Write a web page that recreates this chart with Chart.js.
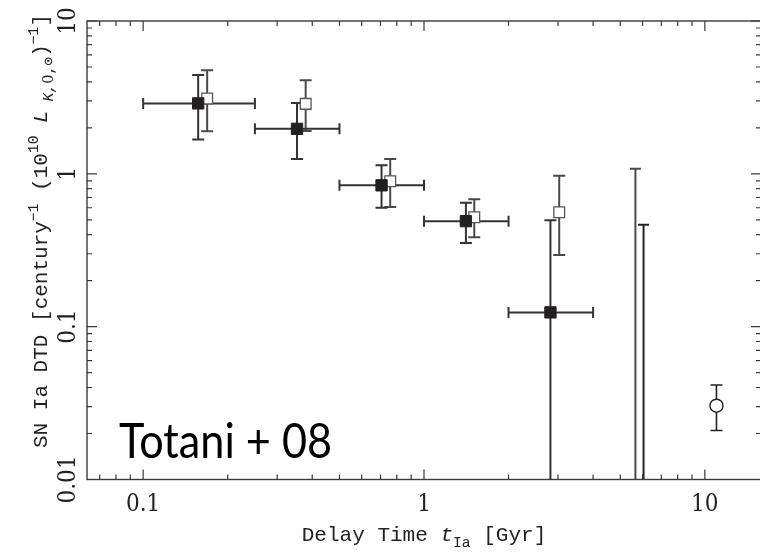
<!DOCTYPE html>
<html>
<head>
<meta charset="utf-8">
<script src="https://cdn.jsdelivr.net/npm/chart.js@4.4.0/dist/chart.umd.min.js"></script>
<style>
html, body { margin: 0; padding: 0; background: #fff; overflow: hidden; }
#wrap { width: 770px; height: 556px; }
</style>
</head>
<body>
<div id="wrap"><canvas id="dtd" width="770" height="556"></canvas></div>
<script>
// delay time bins (Gyr)
var binLo = [0.1, 0.25, 0.5, 1.0, 2.0];
var binHi = [0.25, 0.5, 1.0, 2.0, 4.0];
// filled squares
var filledX = [0.157, 0.353, 0.706, 1.41, 2.82];
var filledY = [2.89, 1.97, 0.841, 0.49, 0.124];
var filledLo = [1.68, 1.25, 0.60, 0.353, 0.001];
var filledHi = [4.44, 2.91, 1.14, 0.647, 0.496];
// open squares
var openX = [0.169, 0.379, 0.758, 1.51, 3.03];
var openY = [3.11, 2.87, 0.893, 0.52, 0.56];
var openLo = [1.90, 1.91, 0.607, 0.385, 0.294];
var openHi = [4.76, 4.10, 1.25, 0.681, 0.972];
// 4-8 Gyr bin, central value below the axis
var limX = [5.66, 6.05];
var limLo = [0.001, 0.001];
var limHi = [1.08, 0.465];
// open circle
var circX = [11.0];
var circY = [0.0304];
var circLo = [0.0209];
var circHi = [0.0415];

var xTicks = [0.1, 1, 10];
var yTicks = [0.01, 0.1, 1, 10];
var xTickLabels = ['0.1', '1', '10'];
var yTickLabels = ['0.01', '0.1', '1', '10'];

var mono = '"Liberation Mono", monospace';
var digits = '"DejaVu Serif", serif';

function pts(xs, ys) {
    return xs.map(function(x, i) { return {x: x, y: ys[i]}; });
}

// text with super/subscripts
function segFont(s, size) {
    var sz = (s.s ? size * 0.7 : size);
    return (s.i ? 'italic ' : '') + sz + 'px ' + (s.f || mono);
}
function richWidth(ctx, segs, size) {
    var w = 0;
    segs.forEach(function(s) { ctx.font = segFont(s, size); w += ctx.measureText(s.t).width; });
    return w;
}
function drawRich(ctx, segs, x, y, size) {
    segs.forEach(function(s) {
        ctx.font = segFont(s, size);
        var dy = s.s == 'sup' ? -size * 0.42 : (s.s == 'sub' ? size * 0.28 : 0);
        ctx.fillText(s.t, x, y + dy);
        x += ctx.measureText(s.t).width;
    });
}

var yTitle = [
    {t: 'SN Ia DTD [century'}, {t: '\u22121', s: 'sup'}, {t: ' (10'}, {t: '10', s: 'sup'},
    {t: ' '}, {t: 'L', i: true}, {t: ' K,', s: 'sub', i: true}, {t: '0', s: 'sub', f: digits},
    {t: ',\u2299', s: 'sub'}, {t: ')'},
    {t: '\u22121', s: 'sup'}, {t: ']'}
];
var xTitle = [
    {t: 'Delay Time '}, {t: 't', i: true}, {t: 'Ia', s: 'sub'}, {t: ' [Gyr]'}
];

function tickText(ctx, txt, x, y, rot) {
    ctx.save();
    ctx.translate(x, y);
    if (rot) ctx.rotate(-Math.PI / 2);
    ctx.scale(0.9, 1);
    ctx.fillText(txt, 0, 0);
    ctx.restore();
}

var errPlugin = {
    id: 'errbars',
    beforeDatasetsDraw: function(chart) {
        var ctx = chart.ctx, xs = chart.scales.x, ys = chart.scales.y, a = chart.chartArea;
        ctx.save();
        ctx.beginPath();
        ctx.rect(a.left, a.top, a.right - a.left, a.bottom - a.top);
        ctx.clip();
        ctx.lineCap = 'butt';
        function vbar(x, lo, hi, cap, col, w) {
            var px = xs.getPixelForValue(x), p1 = ys.getPixelForValue(lo), p2 = ys.getPixelForValue(hi);
            ctx.strokeStyle = col; ctx.lineWidth = w;
            ctx.beginPath();
            ctx.moveTo(px, p1); ctx.lineTo(px, p2);
            ctx.moveTo(px - cap, p1); ctx.lineTo(px + cap, p1);
            ctx.moveTo(px - cap, p2); ctx.lineTo(px + cap, p2);
            ctx.stroke();
        }
        function hbar(y, lo, hi, cap, col, w) {
            var py = ys.getPixelForValue(y), p1 = xs.getPixelForValue(lo), p2 = xs.getPixelForValue(hi);
            ctx.strokeStyle = col; ctx.lineWidth = w;
            ctx.beginPath();
            ctx.moveTo(p1, py); ctx.lineTo(p2, py);
            ctx.moveTo(p1, py - cap); ctx.lineTo(p1, py + cap);
            ctx.moveTo(p2, py - cap); ctx.lineTo(p2, py + cap);
            ctx.stroke();
        }
        for (var i = 0; i < openX.length; i++) {
            vbar(openX[i], openLo[i], openHi[i], 6, '#4a4a4a', 2);
        }
        for (i = 0; i < filledX.length; i++) {
            hbar(filledY[i], binLo[i], binHi[i], 5.5, '#333', 2);
            vbar(filledX[i], filledLo[i], filledHi[i], 6, '#333', 2);
        }
        for (i = 0; i < limX.length; i++) {
            vbar(limX[i], limLo[i], limHi[i], 5.5, i == 0 ? '#4a4a4a' : '#222', 2);
        }
        vbar(circX[0], circLo[0], circHi[0], 6, '#222', 1.6);
        ctx.restore();
    },
    afterDraw: function(chart) {
        var ctx = chart.ctx, xs = chart.scales.x, ys = chart.scales.y, a = chart.chartArea;
        ctx.save();
        // frame
        ctx.strokeStyle = '#3a3a3a';
        ctx.lineWidth = 1.4;
        ctx.strokeRect(a.left, a.top, a.right - a.left, a.bottom - a.top);
        // ticks, inward on all sides
        ctx.lineWidth = 1.2;
        ctx.beginPath();
        var d, m, v, p;
        for (d = 0.01; d < 50; d *= 10) {
            for (m = 1; m < 10; m++) {
                v = d * m;
                var len = m == 1 ? 10 : 5;
                if (v >= xs.min && v <= xs.max) {
                    p = xs.getPixelForValue(v);
                    ctx.moveTo(p, a.bottom); ctx.lineTo(p, a.bottom - len);
                    ctx.moveTo(p, a.top); ctx.lineTo(p, a.top + len);
                }
                if (v >= ys.min && v <= ys.max) {
                    p = ys.getPixelForValue(v);
                    ctx.moveTo(a.left, p); ctx.lineTo(a.left + len, p);
                    ctx.moveTo(a.right, p); ctx.lineTo(a.right - len, p);
                }
            }
        }
        ctx.stroke();
        // tick labels
        ctx.fillStyle = '#222';
        ctx.font = '24px ' + digits;
        ctx.textAlign = 'center';
        ctx.textBaseline = 'alphabetic';
        xTicks.forEach(function(t, i) {
            tickText(ctx, xTickLabels[i], xs.getPixelForValue(t), 511, false);
        });
        yTicks.forEach(function(t, i) {
            tickText(ctx, yTickLabels[i], 75, ys.getPixelForValue(t), true);
        });
        // axis titles
        ctx.textAlign = 'left';
        var ts = 21;
        var w = richWidth(ctx, xTitle, ts);
        drawRich(ctx, xTitle, (a.left + a.right) / 2 - w / 2, 541, ts);
        ctx.save();
        ctx.translate(47, 231);
        ctx.rotate(-Math.PI / 2);
        w = richWidth(ctx, yTitle, ts);
        drawRich(ctx, yTitle, -w / 2, 0, ts);
        ctx.restore();
        // label
        ctx.fillStyle = '#000';
        ctx.font = '48px Lato';
        ctx.save();
        ctx.translate(119, 458);
        ctx.scale(0.9, 1);
        ctx.fillText('Totani + 08', 0, 0);
        ctx.restore();
        ctx.restore();
    }
};

new Chart(document.getElementById('dtd'), {
    type: 'scatter',
    data: {
        datasets: [
            {
                label: 'filled',
                data: pts(filledX, filledY),
                pointStyle: 'rect',
                pointRadius: 8,
                backgroundColor: '#231f20',
                borderColor: '#231f20',
                borderWidth: 1
            },
            {
                label: 'open',
                data: pts(openX, openY),
                pointStyle: 'rect',
                pointRadius: 7.6,
                backgroundColor: '#fff',
                borderColor: '#555',
                borderWidth: 1.3
            },
            {
                label: 'circle',
                data: pts(circX, circY),
                pointStyle: 'circle',
                pointRadius: 6.5,
                backgroundColor: '#fff',
                borderColor: '#222',
                borderWidth: 1.4
            }
        ]
    },
    options: {
        responsive: false,
        animation: false,
        layout: { padding: { left: 87, top: 21, right: 6, bottom: 76.5 } },
        plugins: { legend: { display: false }, tooltip: { enabled: false } },
        scales: {
            x: { type: 'logarithmic', display: false, min: Math.pow(10, -1.2), max: Math.pow(10, 1.2) },
            y: { type: 'logarithmic', display: false, min: 0.01, max: 10 }
        }
    },
    plugins: [errPlugin]
});
</script>
</body>
</html>
